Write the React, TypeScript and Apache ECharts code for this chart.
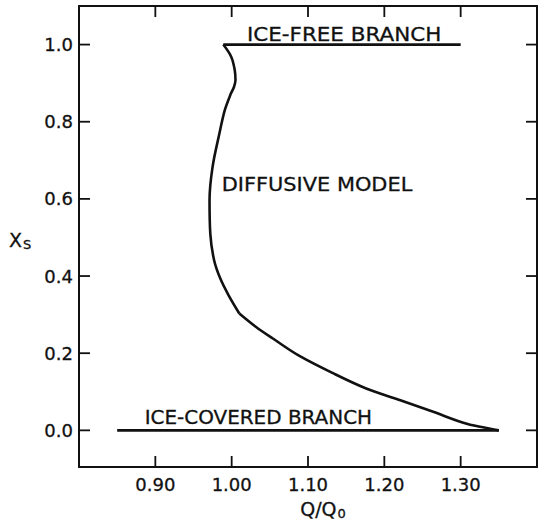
import React, { useEffect, useRef } from "react";
import * as echarts from "echarts";

// Tick values and labels
const xTickValues = [0.9, 1.0, 1.1, 1.2, 1.3];
const xTickLabels = ["0.90", "1.00", "1.10", "1.20", "1.30"];
const yTickValues = [0.0, 0.2, 0.4, 0.6, 0.8, 1.0];
const yTickLabels = ["0.0", "0.2", "0.4", "0.6", "0.8", "1.0"];

// Axis ranges
const xMin = 0.8;
const xMax = 1.4;
const yMin = -0.095;
const yMax = 1.1;

// Diffusive model curve (Q/Q0, xs) – upper part down to the kink
const diffUpperQ = [0.989, 0.9995, 1.004, 1.005, 1.003, 0.999, 0.991, 0.984, 0.975, 0.971, 0.972, 0.977, 0.985, 0.996, 1.010];
const diffUpperX = [1.0, 0.968, 0.934, 0.908, 0.89, 0.873, 0.83, 0.77, 0.683, 0.597, 0.51, 0.441, 0.394, 0.35, 0.303];
// lower part from the kink to the ice-covered branch
const diffLowerQ = [1.010, 1.032, 1.054, 1.087, 1.134, 1.177, 1.221, 1.264, 1.308, 1.342, 1.35];
const diffLowerX = [0.303, 0.268, 0.238, 0.195, 0.147, 0.108, 0.078, 0.048, 0.017, 0.003, 0.0];

// Branches
const iceFreeQ = [0.989, 1.3];
const iceFreeX = [1.0, 1.0];
const iceCoveredQ = [0.85, 1.35];
const iceCoveredX = [0.0, 0.0];

// Annotations: text with left/middle anchor in data coordinates
const annoText = ["ICE-FREE BRANCH", "DIFFUSIVE MODEL", "ICE-COVERED BRANCH"];
const annoQ = [1.02, 0.987, 0.886];
const annoX = [1.027, 0.639, 0.033];
const annoStretch = [1.13, 1.1, 1.05];

const zip = (a: number[], b: number[]) => a.map((v, i) => [v, b[i]]);

const FONT = "DejaVu Sans";
const INK = "#111";
const TICK_LEN = 11;

export default function App() {
  const ref = useRef<HTMLDivElement>(null);
  useEffect(() => {
    if (!ref.current) return;
    const chart = echarts.init(ref.current, null, { renderer: "svg" });
    const axisLine = { show: true, onZero: false, lineStyle: { color: INK, width: 2 } };
    const labelStyle = {
      color: INK,
      fontFamily: FONT,
      fontSize: 18,
      textBorderColor: INK,
      textBorderWidth: 0.3,
    };
    const lineSeries = (data: number[][], smooth: number | boolean) => ({
      type: "line",
      data,
      showSymbol: false,
      symbol: "none",
      smooth,
      lineStyle: { color: INK, width: 2.6 },
      silent: true,
    });
    const tickStyle = { stroke: INK, lineWidth: 1.8 };
    // inward ticks on all four sides, placed through the axis scales
    const xTickSeries = {
      type: "custom",
      silent: true,
      clip: false,
      data: xTickValues.map((v) => [v, 0]),
      encode: { x: 0, y: 1 },
      renderItem: (_p: any, api: any) => {
        const v = api.value(0);
        const b = api.coord([v, yMin]);
        const t = api.coord([v, yMax]);
        return {
          type: "group",
          children: [
            { type: "line", shape: { x1: b[0], y1: b[1], x2: b[0], y2: b[1] - TICK_LEN }, style: tickStyle },
            { type: "line", shape: { x1: t[0], y1: t[1], x2: t[0], y2: t[1] + TICK_LEN }, style: tickStyle },
          ],
        };
      },
    };
    const yTickSeries = {
      type: "custom",
      silent: true,
      clip: false,
      data: yTickValues.map((v) => [1.0, v]),
      encode: { x: 0, y: 1 },
      renderItem: (_p: any, api: any) => {
        const v = api.value(1);
        const l = api.coord([xMin, v]);
        const r = api.coord([xMax, v]);
        return {
          type: "group",
          children: [
            { type: "line", shape: { x1: l[0], y1: l[1], x2: l[0] + TICK_LEN, y2: l[1] }, style: tickStyle },
            { type: "line", shape: { x1: r[0], y1: r[1], x2: r[0] - TICK_LEN, y2: r[1] }, style: tickStyle },
          ],
        };
      },
    };
    chart.setOption({
      animation: false,
      backgroundColor: "#fff",
      grid: { left: 79, top: 6, width: 458, height: 461 },
      xAxis: [
        {
          type: "value",
          min: xMin,
          max: xMax,
          position: "bottom",
          axisLine,
          axisTick: { show: false },
          splitLine: { show: false },
          axisLabel: {
            customValues: xTickValues,
            formatter: (v: number) => xTickLabels[xTickValues.findIndex((t) => Math.abs(t - v) < 1e-6)] ?? "",
            margin: 8,
            ...labelStyle,
          },
        },
        {
          type: "value",
          min: xMin,
          max: xMax,
          position: "top",
          axisLine,
          axisTick: { show: false },
          splitLine: { show: false },
          axisLabel: { show: false },
        },
      ],
      yAxis: [
        {
          type: "value",
          min: yMin,
          max: yMax,
          position: "left",
          axisLine,
          axisTick: { show: false },
          splitLine: { show: false },
          axisLabel: {
            customValues: yTickValues,
            formatter: (v: number) => yTickLabels[yTickValues.findIndex((t) => Math.abs(t - v) < 1e-6)] ?? "",
            margin: 6,
            ...labelStyle,
          },
        },
        {
          type: "value",
          min: yMin,
          max: yMax,
          position: "right",
          axisLine,
          axisTick: { show: false },
          splitLine: { show: false },
          axisLabel: { show: false },
        },
      ],
      series: [
        xTickSeries,
        yTickSeries,
        lineSeries(zip(diffUpperQ, diffUpperX), 0.35),
        lineSeries(zip(diffLowerQ, diffLowerX), 0.35),
        lineSeries(zip(iceFreeQ, iceFreeX), false),
        lineSeries(zip(iceCoveredQ, iceCoveredX), false),
      ],
    });

    const annos = annoText.map((t, i) => {
      const p = chart.convertToPixel({ gridIndex: 0 }, [annoQ[i], annoX[i]]) as number[];
      return {
        type: "text",
        x: p[0],
        y: p[1],
        scaleX: annoStretch[i],
        silent: true,
        style: {
          text: t,
          fill: INK,
          font: `19px "${FONT}"`,
          stroke: INK,
          lineWidth: 0.3,
          verticalAlign: "middle",
          align: "left",
        },
      };
    });
    const richParts = {
      a: { fontFamily: FONT, fontSize: 19, lineHeight: 22, fill: INK, stroke: INK, lineWidth: 0.3 },
      b: { fontFamily: FONT, fontSize: 13, verticalAlign: "bottom", fill: INK, stroke: INK, lineWidth: 0.3, padding: [0, 0, 0, 1] },
    };
    chart.setOption({
      graphic: [
        ...annos,
        {
          type: "text",
          x: 9,
          y: 240,
          silent: true,
          style: { text: "{a|X}{b|S}", fill: INK, verticalAlign: "middle", align: "left", rich: richParts },
        },
        {
          type: "text",
          x: 323,
          y: 509,
          silent: true,
          style: { text: "{a|Q/Q}{b|0}", fill: INK, verticalAlign: "middle", align: "center", rich: richParts },
        },
      ],
    });
    return () => chart.dispose();
  }, []);
  return <div ref={ref} style={{ position: "fixed", left: 0, top: 0, width: 538, height: 520 }} />;
}
